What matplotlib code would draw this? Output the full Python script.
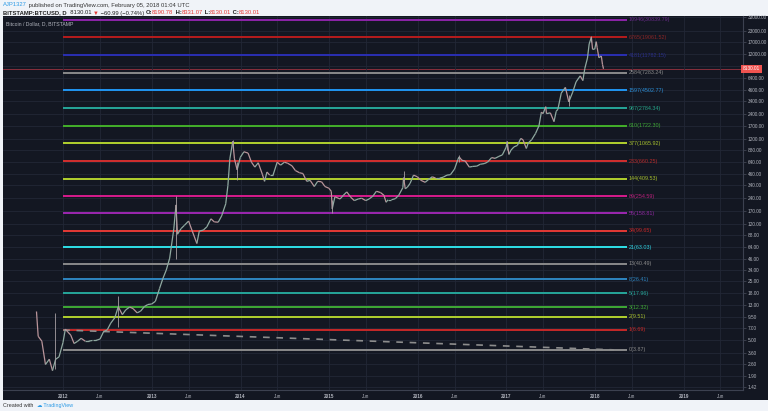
import numpy as np
import pandas as pd
import matplotlib
matplotlib.use("Agg")
import matplotlib.pyplot as plt
import matplotlib.dates as mdates
from matplotlib.collections import LineCollection
from matplotlib.patches import Rectangle

plt.rcParams['font.family'] = ['Liberation Sans', 'DejaVu Sans']

# BTCUSD (Bitstamp) - closes, roughly twice a month
dates = ["2011-09-13", "2011-09-20", "2011-10-05", "2011-10-20", "2011-11-05", "2011-11-18",
         "2011-12-01", "2011-12-15", "2011-12-31",
         "2012-01-10", "2012-01-20", "2012-02-01", "2012-02-15", "2012-03-01", "2012-03-15",
         "2012-04-01", "2012-04-15", "2012-05-01", "2012-05-15", "2012-06-01", "2012-06-15",
         "2012-07-01", "2012-07-15", "2012-08-01", "2012-08-15", "2012-09-01", "2012-09-15",
         "2012-10-01", "2012-10-15", "2012-11-01", "2012-11-15", "2012-12-01", "2012-12-15",
         "2012-12-31",
         "2013-01-15", "2013-02-01", "2013-02-15", "2013-03-01", "2013-03-15", "2013-04-01",
         "2013-04-10", "2013-04-16", "2013-05-01", "2013-05-15", "2013-06-01", "2013-06-15",
         "2013-07-05", "2013-07-15", "2013-08-01", "2013-08-15", "2013-09-01", "2013-09-15",
         "2013-10-01", "2013-10-15", "2013-11-01", "2013-11-10", "2013-11-18", "2013-11-30",
         "2013-12-07", "2013-12-18", "2013-12-31",
         "2014-01-15", "2014-02-01", "2014-02-15", "2014-03-01", "2014-03-15", "2014-04-01",
         "2014-04-10", "2014-04-20", "2014-05-01", "2014-05-15", "2014-06-01", "2014-06-15",
         "2014-07-01", "2014-07-15", "2014-08-01", "2014-08-15", "2014-09-01", "2014-09-15",
         "2014-10-01", "2014-10-15", "2014-11-01", "2014-11-15", "2014-12-01", "2014-12-15",
         "2014-12-31",
         "2015-01-10", "2015-01-14", "2015-01-25", "2015-02-15", "2015-03-01", "2015-03-15",
         "2015-04-01", "2015-04-15", "2015-05-01", "2015-05-15", "2015-06-01", "2015-06-15",
         "2015-07-01", "2015-07-15", "2015-08-01", "2015-08-15", "2015-08-24", "2015-09-01",
         "2015-09-15", "2015-10-01", "2015-10-15", "2015-11-01", "2015-11-04", "2015-11-11",
         "2015-11-20", "2015-12-01", "2015-12-15", "2015-12-31",
         "2016-01-15", "2016-02-01", "2016-02-15", "2016-03-01", "2016-03-15", "2016-04-01",
         "2016-04-15", "2016-05-01", "2016-05-15", "2016-06-01", "2016-06-15", "2016-06-20",
         "2016-07-01", "2016-07-15", "2016-08-01", "2016-08-15", "2016-09-01", "2016-09-15",
         "2016-10-01", "2016-10-15", "2016-11-01", "2016-11-15", "2016-12-01", "2016-12-15",
         "2016-12-31",
         "2017-01-04", "2017-01-11", "2017-01-20", "2017-02-01", "2017-02-15", "2017-03-01",
         "2017-03-10", "2017-03-24", "2017-04-01", "2017-04-15", "2017-05-01", "2017-05-15",
         "2017-05-25", "2017-06-01", "2017-06-12", "2017-06-15", "2017-07-01", "2017-07-16",
         "2017-07-25", "2017-08-01", "2017-08-15", "2017-09-01", "2017-09-15", "2017-10-01",
         "2017-10-15", "2017-11-01", "2017-11-12", "2017-11-20", "2017-12-01", "2017-12-08",
         "2017-12-17", "2017-12-22", "2017-12-31",
         "2018-01-06", "2018-01-10", "2018-01-17", "2018-01-27", "2018-02-01", "2018-02-05"]
closes = [11.0, 5.6, 4.9, 2.6, 3.0, 2.2,
          3.0, 3.2, 4.7,
          6.8, 6.3, 5.8, 4.6, 4.9, 5.3,
          4.9, 4.9, 5.0, 5.0, 5.2, 6.3,
          6.7, 8.0, 9.3, 12.5, 10.1, 11.5,
          12.4, 11.9, 10.6, 11.1, 12.6, 13.3,
          13.5,
          14.5, 20.5, 27.0, 34.0, 47.0, 104.0,
          200.0, 90.0, 105.0, 115.0, 129.0, 100.0,
          70.0, 98.0, 101.0, 110.0, 137.0, 126.0,
          125.0, 148.0, 206.0, 340.0, 700.0, 1130.0,
          700.0, 520.0, 730.0,
          850.0, 820.0, 640.0, 560.0, 630.0, 460.0,
          380.0, 490.0, 450.0, 450.0, 640.0, 590.0,
          640.0, 620.0, 580.0, 510.0, 480.0, 470.0,
          380.0, 390.0, 330.0, 380.0, 375.0, 330.0,
          315.0,
          290.0, 180.0, 250.0, 235.0, 260.0, 285.0,
          245.0, 225.0, 235.0, 240.0, 225.0, 235.0,
          255.0, 290.0, 280.0, 260.0, 215.0, 230.0,
          230.0, 237.0, 260.0, 320.0, 420.0, 310.0,
          325.0, 360.0, 450.0, 430.0,
          390.0, 370.0, 400.0, 430.0, 415.0, 415.0,
          425.0, 450.0, 455.0, 530.0, 690.0, 740.0,
          675.0, 660.0, 560.0, 570.0, 575.0, 605.0,
          615.0, 640.0, 725.0, 710.0, 750.0, 780.0,
          965.0,
          1120.0, 790.0, 890.0, 970.0, 1010.0, 1220.0,
          1180.0, 930.0, 1080.0, 1180.0, 1400.0, 1720.0,
          2500.0, 2400.0, 2900.0, 2400.0, 2450.0, 1930.0,
          2550.0, 2700.0, 4200.0, 4900.0, 3300.0, 4300.0,
          5700.0, 6700.0, 5900.0, 8200.0, 10900.0, 16000.0,
          19200.0, 13800.0, 13900.0,
          17000.0, 14400.0, 11000.0, 11500.0, 9100.0, 8130.01]

# a few long wicks visible on the chart
wick_dates = ["2011-11-27", "2012-08-16", "2013-04-10", "2013-11-30", "2013-12-18",
              "2015-01-14", "2015-11-04", "2016-06-18", "2017-01-05", "2017-09-15", "2017-12-17"]
wick_highs = [10.5, 16.8, 255.0, 1160.0, 640.0, 230.0, 500.0, 780.0, 1150.0, 4000.0, 19660.0]
wick_lows = [2.3, 7.3, 45.5, 950.0, 395.0, 159.0, 380.0, 650.0, 900.0, 2980.0, 17000.0]

# fibonacci levels: label numbers, prices, colours
fib_numbers = [10946, 6765, 4181, 2584, 1597, 987, 610, 377, 233, 144, 89, 55, 34, 21, 13, 8, 5, 3, 2, 1, 0]
fib_prices = [30839.79, 19061.52, 11782.15, 7283.24, 4502.77, 2784.34, 1722.30, 1065.92, 660.25,
              409.53, 254.59, 158.81, 99.65, 63.03, 40.49, 26.41, 17.96, 12.32, 9.51, 6.69, 3.87]
fib_colors = ["#8e24aa", "#b71c1c", "#2a2fb3", "#8a8a8a", "#2196f3", "#26a69a", "#43b02a",
              "#b2d12e", "#d32f2f", "#b2d12e", "#d81b8c", "#9c27b0", "#e53935", "#2ee0e8",
              "#8a8a8a", "#2e86c1", "#26a69a", "#3faa35", "#b2d12e", "#c62828", "#8a8a8a"]
fib_text_colors = ["#6a2b8a", "#8a2626", "#2a2f8a", "#8a8a8a", "#2b8fd8", "#26a68a", "#3faa35",
                   "#a6bf2e", "#b52a2a", "#a6bf2e", "#b8207a", "#8e28a0", "#c62828", "#2ed0e0",
                   "#8a8a8a", "#2e86c1", "#26a69a", "#3faa35", "#a6bf2e", "#c62828", "#8a8a8a"]

# dashed trend line
trend_dates = ["2012-01-01", "2018-03-20"]
trend_prices = [6.64, 3.87]

y_ticks = [1.42, 1.90, 2.60, 3.60, 5.00, 7.00, 9.50, 13, 18, 25, 34, 46, 64, 88, 120, 170, 240,
           340, 460, 640, 880, 1200, 1700, 2400, 3400, 4600, 6400, 8800, 12000, 17000, 23000, 33000]
x_ticks = ["2012-01-01", "2012-06-01", "2013-01-01", "2013-06-01", "2014-01-01", "2014-06-01",
           "2015-01-01", "2015-06-01", "2016-01-01", "2016-06-01", "2017-01-01", "2017-06-01",
           "2018-01-01", "2018-06-01", "2019-01-01", "2019-06-01"]
x_tick_labels = ["2012", "Jun", "2013", "Jun", "2014", "Jun", "2015", "Jun", "2016", "Jun",
                 "2017", "Jun", "2018", "Jun", "2019", "Jun"]
last_price = 8130.01

W, H = 768, 411
BG = "#131722"
TXT = "#b2b5be"

fig = plt.figure(figsize=(W / 100, H / 100), dpi=100, facecolor="#f0f3f8")
fig.add_artist(Rectangle((3 / W, 1 - 400 / H), 765 / W, 384 / H, transform=fig.transFigure,
                         facecolor=BG, edgecolor="none", zorder=0))
ax = fig.add_axes([3 / W, 1 - 390 / H, 740 / W, 374 / H], facecolor=BG)

ax.set_yscale("log")
ax.set_ylim(1.298, 34200)
ax.set_xlim(mdates.date2num(pd.Timestamp("2011-04-28")), mdates.date2num(pd.Timestamp("2019-09-03")))

# grid
ax.set_yticks(y_ticks)
ax.yaxis.set_minor_locator(matplotlib.ticker.NullLocator())
# 8800 label sits under the last-price tag
ax.set_yticklabels(["" if v == 8800 else "%.2f" % v for v in y_ticks])
ax.yaxis.tick_right()
xt = mdates.date2num(pd.to_datetime(x_ticks))
ax.set_xticks(xt)
ax.set_xticklabels(x_tick_labels)
ax.grid(True, color="#222736", lw=0.6, zorder=0)
ax.tick_params(axis="y", colors="#4a4f5c", labelcolor=TXT, labelsize=3.4, length=2, width=0.5, pad=1.5)
ax.tick_params(axis="x", colors="#4a4f5c", labelcolor=TXT, labelsize=3.3, length=0, pad=3)
for lab in ax.get_xticklabels():
    if lab.get_text() != "Jun":
        lab.set_fontweight("bold")
for s in ["top", "left"]:
    ax.spines[s].set_visible(False)
for s in ["right", "bottom"]:
    ax.spines[s].set_color("#3c4150")
    ax.spines[s].set_linewidth(0.8)

# fib lines
line_start = mdates.date2num(pd.Timestamp("2012-01-01"))
line_end = mdates.date2num(pd.Timestamp("2018-05-13"))
ax.hlines(fib_prices, line_start, line_end, colors=fib_colors, lw=1.4, zorder=2)
for n, p, c in zip(fib_numbers, fib_prices, fib_text_colors):
    ax.text(line_end + 8, p, "%d(%.2f)" % (n, p), color=c, fontsize=3.9, va="center", ha="left")

# dashed trend
td = mdates.date2num(pd.to_datetime(trend_dates))
ax.plot(td, trend_prices, color="#8c8c8c", lw=1.2, dashes=(4, 4), zorder=2)

# price series
d = mdates.date2num(pd.to_datetime(dates))
c = np.array(closes)
pts = np.column_stack([d, c]).reshape(-1, 1, 2)
segs = np.concatenate([pts[:-1], pts[1:]], axis=1)
seg_cols = ["#8fa9a0" if b >= a else "#b9949a" for a, b in zip(c[:-1], c[1:])]
ax.add_collection(LineCollection(segs, colors=seg_cols, lw=0.9, zorder=3))
wd = mdates.date2num(pd.to_datetime(wick_dates))
ax.vlines(wd, wick_lows, wick_highs, colors="#a8a0a4", lw=0.6, zorder=3)

# last price line and tag
ax.axhline(last_price, color="#e0414f", lw=0.5, alpha=0.8, zorder=1)
ax.text(1.0, last_price, "8130.01", transform=ax.get_yaxis_transform(), fontsize=3.4, color="white",
        ha="left", va="center", zorder=5,
        bbox=dict(boxstyle="square,pad=0.35", fc="#ef5350", ec="none"))

ax.text(0.004, 0.985, "Bitcoin / Dollar, D, BITSTAMP", transform=ax.transAxes, fontsize=3.7,
        color=TXT, ha="left", va="top")

# header / footer text pieces
renderer = fig.canvas.get_renderer()


def put_row(x_px, y_px, pieces, size):
    x = x_px
    for txt, col, weight in pieces:
        t = fig.text(x / W, 1 - y_px / H, txt, color=col, fontsize=size, fontweight=weight,
                     ha="left", va="center")
        bb = t.get_window_extent(renderer)
        x += bb.width


put_row(3, 5, [("AJP1327", "#2e9be6", "normal"),
               (" published on TradingView.com, February 05, 2018 01:04 UTC", "#333333", "normal")], 4.2)
red = "#e53935"
dark = "#222222"
put_row(3, 13, [("BITSTAMP:BTCUSD, D", dark, "bold"), ("  8130.01 ", dark, "normal"),
                ("\u25bc", red, "normal"), (" \u221260.99 (\u22120.74%) ", dark, "normal"),
                ("O:", dark, "bold"), ("8190.78", red, "normal"), (" H:", dark, "bold"),
                ("8331.07", red, "normal"), (" L:", dark, "bold"), ("8130.01", red, "normal"),
                (" C:", dark, "bold"), ("8130.01", red, "normal")], 4.2)
put_row(3, 405, [("Created with  ", "#333333", "normal"), ("\u2601", "#2e9be6", "normal"),
                 (" TradingView", "#2e9be6", "normal")], 3.9)

fig.savefig("out.png", dpi=100, facecolor=fig.get_facecolor())
